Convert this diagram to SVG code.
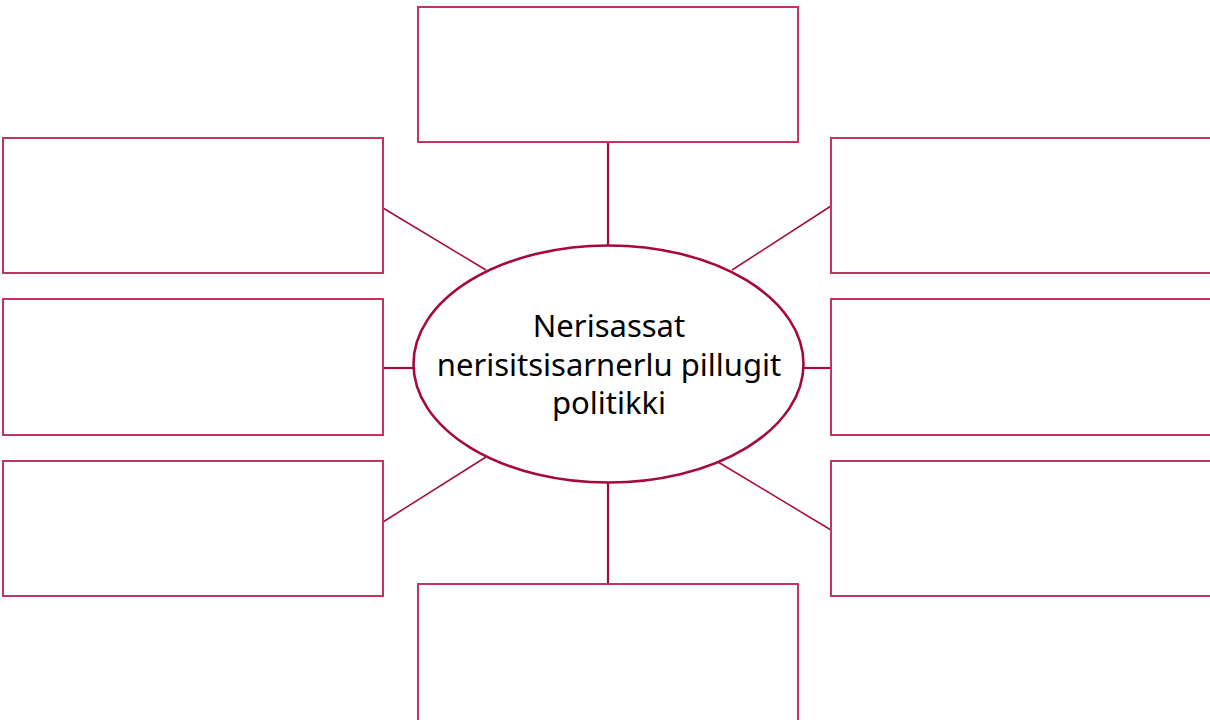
<svg xmlns="http://www.w3.org/2000/svg" width="1210" height="720" viewBox="0 0 1210 720">
<style>
.box{fill:#fff;stroke:#c0365f;stroke-width:2}
.ln{stroke:#a6093d;stroke-width:1.5;fill:none}
.lnv{stroke:#a6093d;stroke-width:2.2;fill:none}
.ell{fill:#fff;stroke:#a6093d;stroke-width:2.6}
.t{font-family:"Noto Sans","Open Sans",sans-serif;font-size:31px;fill:#000;text-anchor:middle}
</style>
<rect width="1210" height="720" fill="#fff"/>
<g id="connectors">
<line class="lnv" x1="608" y1="142" x2="608" y2="246"/>
<line class="lnv" x1="608" y1="482" x2="608" y2="584"/>
<line class="lnv" x1="383" y1="368" x2="414" y2="368"/>
<line class="lnv" x1="803" y1="368" x2="831" y2="368"/>
<line class="ln" x1="383" y1="208" x2="486" y2="270"/>
<line class="ln" x1="831" y1="206" x2="732" y2="270"/>
<line class="ln" x1="383" y1="522" x2="486" y2="457"/>
<line class="ln" x1="831" y1="530" x2="718" y2="462"/>
</g>
<g id="box-top"><rect class="box" x="418" y="7" width="380" height="135"/></g>
<g id="box-left1"><rect class="box" x="3" y="138" width="380" height="135"/></g>
<g id="box-left2"><rect class="box" x="3" y="299" width="380" height="136"/></g>
<g id="box-left3"><rect class="box" x="3" y="461" width="380" height="135"/></g>
<g id="box-right1"><rect class="box" x="831" y="138" width="390" height="135"/></g>
<g id="box-right2"><rect class="box" x="831" y="299" width="390" height="136"/></g>
<g id="box-right3"><rect class="box" x="831" y="461" width="390" height="135"/></g>
<g id="box-bottom"><rect class="box" x="418" y="584" width="380" height="145"/></g>
<g id="center">
<ellipse class="ell" cx="608.5" cy="364" rx="195" ry="118.5"/>
<text class="t" x="609" y="337">Nerisassat</text>
<text class="t" x="609" y="376">nerisitsisarnerlu pillugit</text>
<text class="t" x="609" y="414">politikki</text>
</g>
</svg>
